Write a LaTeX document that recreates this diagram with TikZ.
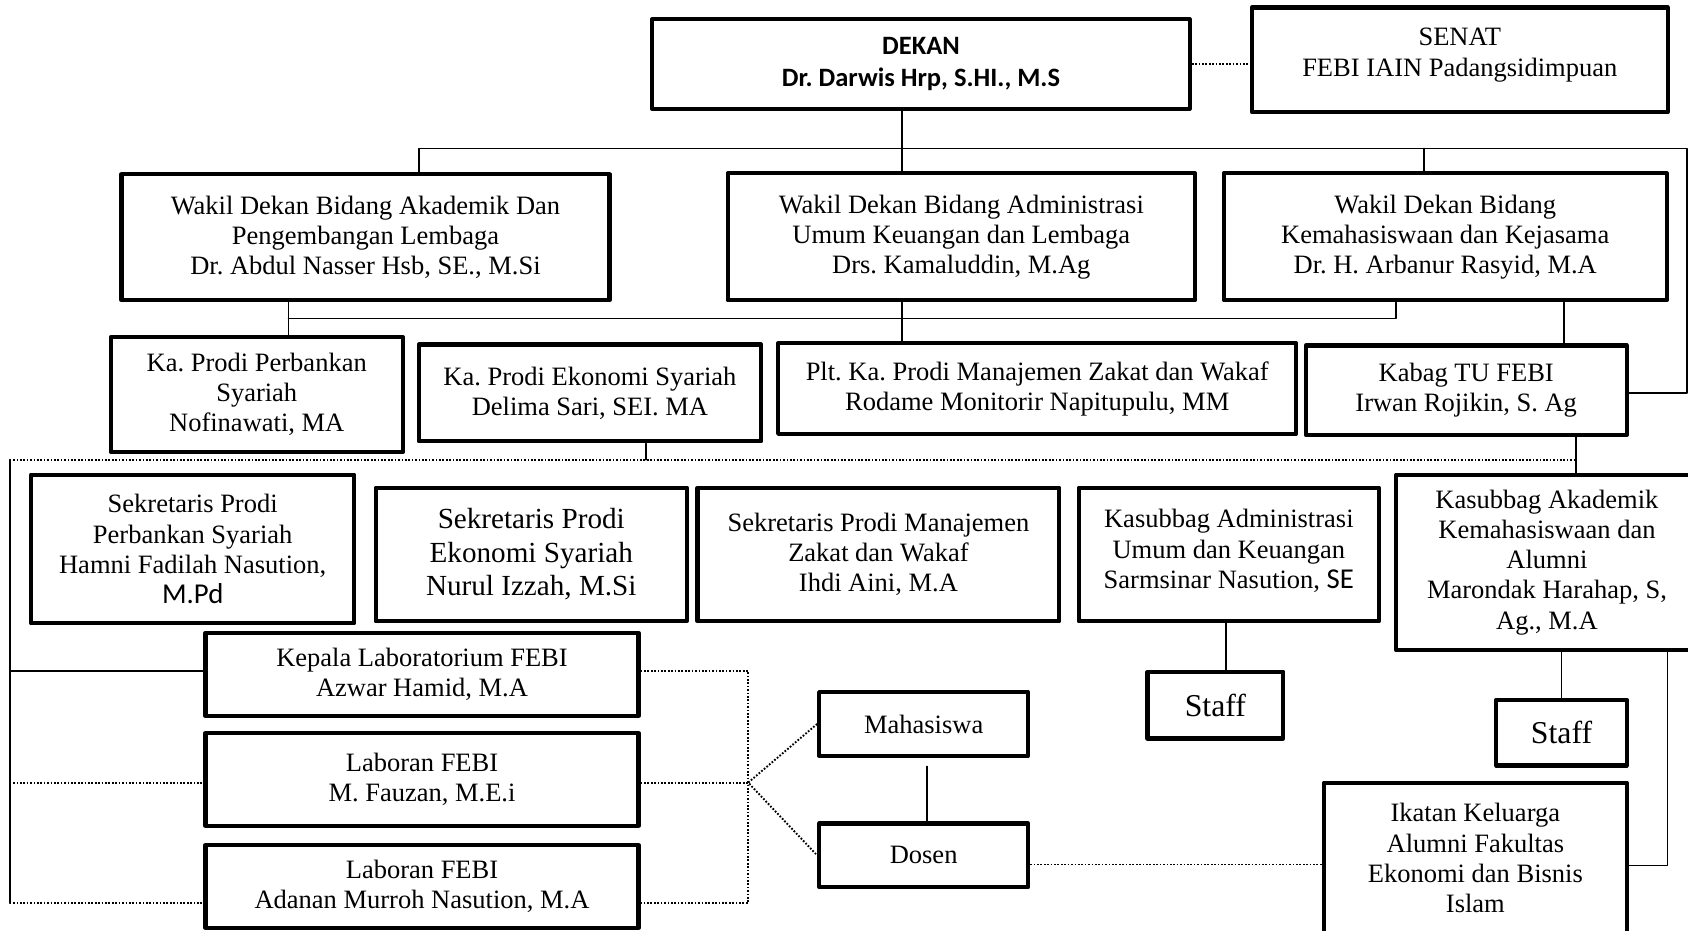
\documentclass[tikz,border=0pt]{standalone}
\usepackage{fontspec}
\setmainfont{Liberation Serif}
\newfontfamily\calfont{Carlito}
\usetikzlibrary{calc}
\frenchspacing

\begin{document}
\begin{tikzpicture}[line cap=round,line join=round,x=0.01cm,y=-0.01cm,
    box/.style={draw,line width=1.1pt,align=center,inner sep=0pt,font=\fontsize{7}{7.95}\selectfont},
    bigbox/.style={box,font=\fontsize{7.7}{8.8}\selectfont},
    staffbox/.style={box,font=\fontsize{8.4}{9}\selectfont},
    link/.style={line width=0.45pt},
    dotline/.style={line width=0.5pt,dash pattern=on 0.45pt off 0.45pt,line cap=butt}]
    \useasboundingbox (0,0) rectangle (1568,864);
    % top level
    \node[box,minimum width=4.99cm,minimum height=0.83cm,font=\calfont\bfseries\fontsize{7}{8.5}\selectfont] (dekan) at (855.5,59.5) {DEKAN\\Dr. Darwis Hrp, S.HI., M.S};
    \node[box,minimum width=3.86cm,minimum height=0.97cm] (senat) at (1356,55.5) {SENAT\\FEBI IAIN Padangsidimpuan\\[-4pt]};
    % wakil dekan
    \node[box,minimum width=4.53cm,minimum height=1.17cm] (wdA) at (339.5,220.5) {Wakil Dekan Bidang Akademik Dan\\Pengembangan Lembaga\\Dr. Abdul Nasser Hsb, SE., M.Si};
    \node[box,minimum width=4.34cm,minimum height=1.18cm] (wdB) at (893,220) {Wakil Dekan Bidang Administrasi\\Umum Keuangan dan Lembaga\\Drs. Kamaluddin, M.Ag};
    \node[box,minimum width=4.11cm,minimum height=1.18cm] (wdC) at (1342.5,220) {Wakil Dekan Bidang\\Kemahasiswaan dan Kejasama\\Dr. H. Arbanur Rasyid, M.A};
    % prodi dan kabag
    \node[box,minimum width=2.71cm,minimum height=1.07cm] (kpPS) at (238.5,366.5) {Ka. Prodi Perbankan\\Syariah\\Nofinawati, MA};
    \node[box,minimum width=3.18cm,minimum height=0.90cm] (kpES) at (548,365) {Ka. Prodi Ekonomi Syariah\\Delima Sari, SEI. MA};
    \node[box,minimum width=4.81cm,minimum height=0.84cm] (kpMZ) at (963.5,361) {Plt. Ka. Prodi Manajemen Zakat dan Wakaf\\Rodame Monitorir Napitupulu, MM};
    \node[box,minimum width=2.98cm,minimum height=0.83cm] (kabag) at (1362,362.5) {Kabag TU FEBI\\Irwan Rojikin, S. Ag};
    % sekretaris dan kasubbag
    \node[box,minimum width=3.00cm,minimum height=1.38cm] (skPS) at (179,510) {Sekretaris Prodi\\Perbankan Syariah\\Hamni Fadilah Nasution,\\{\calfont\fontsize{7.6}{8}\selectfont M.Pd}};
    \node[bigbox,minimum width=2.89cm,minimum height=1.24cm] (skES) at (493.5,515) {Sekretaris Prodi\\Ekonomi Syariah\\Nurul Izzah, M.Si};
    \node[box,minimum width=3.36cm,minimum height=1.24cm] (skMZ) at (816,515) {Sekretaris Prodi Manajemen\\Zakat dan Wakaf\\Ihdi Aini, M.A};
    \node[box,minimum width=2.79cm,minimum height=1.24cm] (ksAU) at (1141.5,515) {Kasubbag Administrasi\\Umum dan Keuangan\\Sarmsinar Nasution, {\calfont\fontsize{7.6}{8}\selectfont SE}\\[-5pt]};
    \node[box,minimum width=2.80cm,minimum height=1.63cm] (ksAK) at (1437,522.5) {Kasubbag Akademik\\Kemahasiswaan dan\\Alumni\\Marondak Harahap, S,\\Ag., M.A};
    \node[staffbox,minimum width=1.26cm,minimum height=0.62cm] (staffA) at (1129,655) {Staff};
    \node[staffbox,minimum width=1.21cm,minimum height=0.61cm] (staffB) at (1450.5,680.5) {Staff};
    % laboratorium
    \node[box,minimum width=4.02cm,minimum height=0.77cm] (lab) at (392,626.5) {Kepala Laboratorium FEBI\\Azwar Hamid, M.A};
    \node[box,minimum width=4.02cm,minimum height=0.86cm] (labA) at (392,724) {Laboran FEBI\\M. Fauzan, M.E.i};
    \node[box,minimum width=4.02cm,minimum height=0.77cm] (labB) at (392,823.5) {Laboran FEBI\\Adanan Murroh Nasution, M.A};
    \node[box,minimum width=1.94cm,minimum height=0.59cm] (mhs) at (858,672.5) {Mahasiswa};
    \node[box,minimum width=1.94cm,minimum height=0.59cm] (dosen) at (858,794.5) {Dosen};
    \node[box,minimum width=2.81cm,minimum height=1.40cm] (ika) at (1370.5,797) {Ikatan Keluarga\\Alumni Fakultas\\Ekonomi dan Bisnis\\Islam};
    % bus points
    \coordinate (t1) at (838,138);
    \coordinate (busA) at (389,138);
    \coordinate (busC) at (1323,138);
    \coordinate (busR) at (1567,365);
    \coordinate (busL) at (268,296);
    \coordinate (busM) at (1297,296);
    \coordinate (busD) at (600,427);
    \coordinate (busK) at (1464,427);
    \coordinate (busO) at (9,427);
    \coordinate (busB) at (9,839);
    \coordinate (jn) at (695,727);
    \coordinate (ikR) at (1549,804);
    % connectors
    \draw[dotline] (dekan.east) -- (dekan.east -| senat.west);
    \draw[link] (t1 |- dekan.south) -- (t1 |- wdB.north);
    \draw[link] (busA |- wdA.north) -- (busA) -- (busR |- busA) -- (busR) -- (busR -| kabag.east);
    \draw[link] (busC) -- (busC |- wdC.north);
    \draw[link] (busL |- wdA.south) -- (busL |- kpPS.north);
    \draw[link] (busL) -- (busM) -- (busM |- wdC.south);
    \draw[link] (t1 |- wdB.south) -- (t1 |- kpMZ.north);
    \draw[link] (wdC.south -| 1453,0) -- (kabag.north -| 1453,0);
    \draw[link] (kpES.south -| busD) -- (busD);
    \draw[link] (kabag.south -| busK) -- (ksAK.north -| busK);
    \draw[dotline] (busO) -- (busK);
    \draw[link] (busO) -- (busB);
    \draw[link] (busO |- 0,623) -- (lab.west |- 0,623);
    \draw[dotline] (busO |- jn) -- (labA.west |- jn);
    \draw[dotline] (busB) -- (busB -| labB.west);
    \draw[dotline] (lab.east |- 0,623) -| (busB -| jn) -- (busB -| labB.east);
    \draw[dotline] (labA.east |- jn) -- (jn);
    \draw[dotline] (mhs.west) -- (jn) -- (dosen.west);
    \draw[link] (mhs.south) ++(3,8) -- (dosen.north -| 861,0);
    \draw[dotline] (dosen.east |- 0,803) -- (ika.west |- 0,803);
    \draw[link] (ksAU.south -| 1139,0) -- (staffA.north -| 1139,0);
    \draw[link] (ksAK.south -| staffB.north) -- (staffB.north);
    \draw[link] (ksAK.south -| ikR) -- (ikR) -- (ikR -| ika.east);
\end{tikzpicture}
\end{document}
